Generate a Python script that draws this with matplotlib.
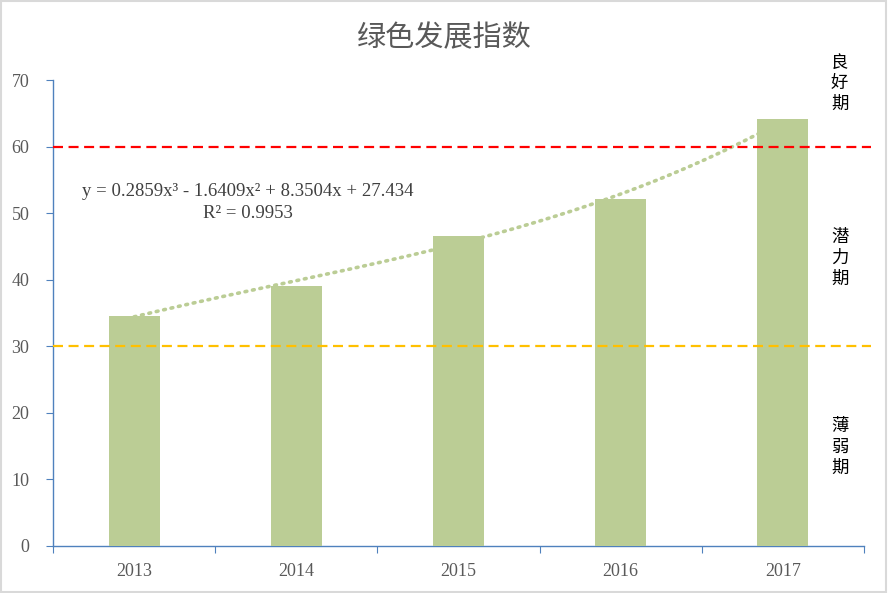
import numpy as np
import matplotlib
matplotlib.use("Agg")
import matplotlib.pyplot as plt
from matplotlib.patches import Rectangle

plt.rcParams['font.family'] = ['Liberation Serif', 'Noto Sans CJK SC']

# data
years = ['2013', '2014', '2015', '2016', '2017']
index_vals = [34.6, 39.1, 46.5, 52.1, 64.1]
trend_coef = [0.2859, -1.6409, 8.3504, 27.434]   # cubic trendline shown on chart
r2 = 0.9953
good_line = 60
weak_line = 30
stage_labels = ['良\n好\n期', '潜\n力\n期', '薄\n弱\n期']
stage_y = [69.5, 43.3, 14.9]

bar_color = '#BBCD95'
axis_color = '#4F81BD'
text_gray = '#595959'

fig = plt.figure(figsize=(8.88, 5.93), dpi=100)
ax = fig.add_axes([0.0597, 0.0793, 0.9133, 0.7857])

x = np.arange(len(years))
ax.bar(x, index_vals, width=0.315, color=bar_color, zorder=3)

# trendline (excel x = 1..n)
tx = np.linspace(1, len(years), 200)
ty = np.polyval(trend_coef, tx)
ax.plot(tx - 1, ty, color=bar_color, lw=2.6, ls=(0, (0.5, 1.6)),
        dash_capstyle='round', zorder=2)

# stage lines
ax.plot([-0.5, 4.54], [good_line, good_line], color='#FF0000', lw=1.6,
        ls=(0, (4.5, 2.5)), clip_on=False, zorder=4)
ax.plot([-0.5, 4.54], [weak_line, weak_line], color='#FFC000', lw=1.6,
        ls=(0, (4.5, 2.5)), clip_on=False, zorder=4)

ax.set_xlim(-0.5, 4.5)
ax.set_ylim(0, 70)
ax.set_yticks(range(0, 71, 10))
ax.set_xticks(np.arange(-0.5, 4.6, 1))
ax.set_xticklabels([])
ax.set_xticks(x, minor=True)
ax.set_xticklabels(years, minor=True)
ax.tick_params(axis='x', which='minor', length=0, pad=12)
ax.tick_params(axis='x', which='major', length=5, direction='out', color=axis_color)
ax.tick_params(axis='y', length=5, direction='out', color=axis_color, pad=12)
for lab in ax.get_yticklabels() + ax.get_xticklabels(minor=True):
    lab.set_color(text_gray)
    lab.set_fontsize(13)

for s in ['top', 'right']:
    ax.spines[s].set_visible(False)
for s in ['left', 'bottom']:
    ax.spines[s].set_color(axis_color)
    ax.spines[s].set_linewidth(1.0)

# equation
eq = 'y = {:.4f}x³ - {:.4f}x² + {:.4f}x + {:.3f}'.format(
    trend_coef[0], -trend_coef[1], trend_coef[2], trend_coef[3])
fig.text(248 / 888, 1 - 192 / 593, eq, ha='center', va='center',
         fontsize=13.5, color='#404040')
fig.text(248 / 888, 1 - 213 / 593, 'R² = {}'.format(r2), ha='center',
         va='center', fontsize=13.5, color='#404040')

# stage labels on the right
for lab, yv in zip(stage_labels, stage_y):
    ax.text(4.35, yv, lab, ha='center', va='center', fontsize=12.5,
            family='Noto Sans CJK SC', linespacing=1.2, color='black',
            clip_on=False, zorder=5)

fig.text(0.5, 1 - 38 / 593, '绿色发展指数', ha='center', va='center',
         fontsize=21, family='Noto Sans CJK SC', color=text_gray)

fig.add_artist(Rectangle((0.001, 0.001), 0.997, 0.997, transform=fig.transFigure,
                         fill=False, edgecolor='#D9D9D9', lw=1.5))

fig.savefig('out.png', dpi=100)
